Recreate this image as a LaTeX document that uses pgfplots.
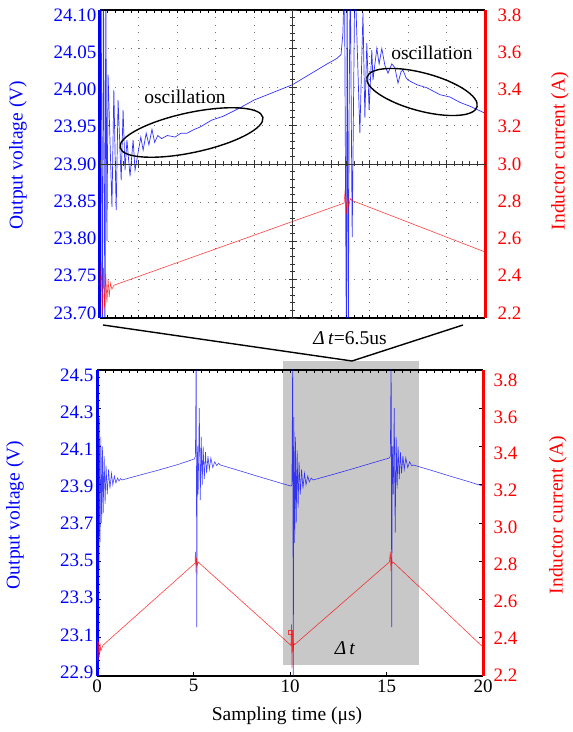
\documentclass[border=0pt]{standalone}
\usepackage{fontspec}
\setmainfont{Liberation Serif}
\usepackage{pgfplots}
\pgfplotsset{compat=1.18}
\definecolor{vblue}{RGB}{0,0,255}
\definecolor{ired}{RGB}{255,0,0}
\definecolor{boxgray}{RGB}{200,200,200}
\newcommand{\fs}{\fontsize{19}{22}\selectfont\rmfamily}
\newcommand{\fl}{\fontsize{19.5}{22}\selectfont\rmfamily}
\pgfplotsset{
  labelaxis/.style={anchor=south west, scale only axis, xmin=0, xmax=1,
    axis x line=none, y axis line style={draw=none}, ytick style={draw=none}},
}

\begin{document}
\begin{tikzpicture}
\begin{scope}[x=1pt,y=1pt]
\useasboundingbox (0,0) rectangle (568,732);
\coordinate (TA) at (100,414);
\coordinate (BA) at (97,56);
\coordinate (TL) at (100,419);
\coordinate (BL) at (97,60);
\coordinate (BR) at (97,57);
% shaded region and zoom lines
\fill[boxgray] (283,67) rectangle (419,371);
\draw[line width=1.4pt] (103,407) -- (352,371) -- (463,407);
\node[font=\fl] at (350,394) {\textit{Δ\,t}=6.5us};
\node[font=\fl] at (345,84) {\textit{Δ\,t}};
\end{scope}

%================ TOP PANEL =================
\begin{axis}[
  at={(TA)}, anchor=south west, scale only axis,
  width=385pt, height=308pt,
  xmin=0, xmax=10, ymin=23.70, ymax=24.10,
  separate axis lines,
  xtick={0,1,2,3,4,5,6,7,8,9,10}, xticklabels={},
  minor x tick num=4,
  tick align=inside, major tick length=3pt, minor tick length=3pt,
  x tick style={black, line width=0.6pt},
  ytick={23.70,23.75,23.80,23.85,23.90,23.95,24.00,24.05,24.10},
  yticklabels={},
  ytick style={draw=none},
  grid=major,
  major grid style={black!55, line width=0.6pt, dash pattern=on 0.6pt off 7.1pt},
  x axis line style={black, line width=1.8pt},
  y axis line style={vblue, line width=3pt},
]
\addplot[vblue, line width=0.7pt, opacity=0.8] coordinates {
(0.00,23.98) (0.03,24.15) (0.06,23.65) (0.09,24.15) (0.13,23.65) (0.15,24.15)
(0.18,23.80) (0.21,24.016) (0.31,23.844) (0.36,23.996) (0.42,23.840) (0.47,23.983)
(0.55,23.879) (0.60,23.970) (0.65,23.892) (0.70,23.931) (0.78,23.884) (0.86,23.931)
(0.91,23.892) (0.99,23.915) (1.06,23.935) (1.12,23.918) (1.20,23.940) (1.27,23.925)
(1.35,23.945) (1.42,23.928) (1.50,23.937) (1.60,23.933) (1.75,23.937) (1.95,23.935)
(2.10,23.940) (2.26,23.940) (2.45,23.945) (2.60,23.948) (2.90,23.957) (3.20,23.962)
(3.60,23.972) (4.00,23.983) (4.50,23.993) (5.00,24.003) (5.50,24.018) (5.90,24.030)
(6.15,24.037) (6.26,24.042) (6.31,24.070) (6.35,24.15) (6.40,23.65) (6.42,24.15)
(6.45,23.65) (6.47,23.970) (6.50,24.15) (6.55,23.805) (6.62,24.15) (6.75,23.940)
(6.83,24.096) (6.88,23.960) (6.93,24.057) (6.99,23.970) (7.06,24.048) (7.09,24.009)
(7.19,24.050) (7.25,24.030) (7.32,24.050) (7.40,24.028) (7.48,24.018) (7.58,24.030)
(7.66,24.025) (7.74,24.005) (7.82,24.020) (7.87,24.022) (7.95,24.012) (8.00,24.009)
(8.23,24.003) (8.49,23.999) (8.83,23.990) (9.09,23.987) (9.35,23.980) (9.61,23.975)
(10.00,23.966)
};
\end{axis}
\begin{axis}[
  at={(TA)}, anchor=south west, scale only axis,
  width=385pt, height=308pt,
  xmin=0, xmax=10, ymin=2.2, ymax=3.8,
  axis x line=none, axis y line*=right,
  ytick={2.2,2.4,2.6,2.8,3.0,3.2,3.4,3.6,3.8},
  yticklabels={},
  ytick style={draw=none},
  y axis line style={ired, line width=3pt, -},
]
\addplot[ired, line width=0.6pt, opacity=0.75] coordinates {
(0,2.35) (0.03,2.49) (0.06,2.22) (0.09,2.46) (0.12,2.25) (0.15,2.43) (0.18,2.28)
(0.21,2.40) (0.24,2.31) (0.27,2.38) (0.31,2.35) (0.36,2.37) (6.34,2.797)
(6.37,2.87) (6.40,2.74) (6.43,2.85) (6.46,2.78) (6.50,2.82) (6.55,2.81) (10,2.543)
};
\end{axis}
% tick labels of the top panel
\begin{axis}[labelaxis, at={(TL)}, width=385pt, height=298pt,
  ymin=23.70, ymax=24.10, axis y line*=left,
  ytick={23.70,23.75,23.80,23.85,23.90,23.95,24.00,24.05,24.10},
  yticklabels={\mbox{23.70},\mbox{23.75},\mbox{23.80},\mbox{23.85},\mbox{23.90},\mbox{23.95},\mbox{24.00},\mbox{24.05},\mbox{24.10}},
  yticklabel style={vblue, font=\fs}]
\end{axis}
\begin{axis}[labelaxis, at={(TL)}, width=385pt, height=298pt,
  ymin=2.2, ymax=3.8, axis y line*=right,
  ytick={2.2,2.4,2.6,2.8,3.0,3.2,3.4,3.6,3.8},
  yticklabels={\mbox{2.2},\mbox{2.4},\mbox{2.6},\mbox{2.8},\mbox{3.0},\mbox{3.2},\mbox{3.4},\mbox{3.6},\mbox{3.8}},
  yticklabel style={ired, font=\fs, xshift=9pt}]
\end{axis}

\begin{scope}[x=1pt,y=1pt]
% oscilloscope centre cross
\draw[black!80, line width=0.8pt] (100,568) -- (485,568);
\draw[black!80, line width=0.8pt] (292.5,414) -- (292.5,722);
\foreach \k in {0,...,50} \draw[black!80, line width=0.6pt] ({100+\k*7.7},565.5) -- ++(0,5);
\foreach \k in {0,...,10} \draw[black!80, line width=0.6pt] ({100+\k*38.5},564) -- ++(0,8);
\foreach \k in {0,...,40} \draw[black!80, line width=0.6pt] (290,{414+\k*7.7}) -- ++(5,0);
\foreach \k in {0,...,8} \draw[black!80, line width=0.6pt] (288.5,{414+\k*38.5}) -- ++(8,0);
% annotations
\draw[line width=1.4pt] (191.5,599.5) ellipse[x radius=73, y radius=20, rotate=12];
\draw[line width=1.4pt] (422,640) ellipse[x radius=57, y radius=19, rotate=-15];
\node[font=\fl] at (185,635) {oscillation};
\node[font=\fl] at (432,679) {oscillation};
\node[rotate=90, text=vblue, font=\fl] at (18,577) {Output voltage (V)};
\node[rotate=90, text=ired, font=\fl] at (560,581) {Inductor current (A)};
\end{scope}

%================ BOTTOM PANEL =================
\begin{axis}[
  at={(BA)}, anchor=south west, scale only axis,
  width=386pt, height=306pt,
  xmin=0, xmax=20, ymin=22.9, ymax=24.5,
  separate axis lines,
  xtick={0,5,10,15,20}, xticklabels={\mbox{0},\mbox{5},\mbox{10},\mbox{15},\mbox{20}},
  xtick pos=left, ytick pos=left,
  tick align=inside, major tick length=4pt, minor tick length=3pt,
  minor y tick num=4,
  ytick={22.9,23.1,23.3,23.5,23.7,23.9,24.1,24.3,24.5},
  yticklabels={},
  tick style={black, line width=0.6pt},
  xticklabel style={black, font=\fs},
  x axis line style={black, line width=1.8pt},
  y axis line style={vblue, line width=3pt},
]
\addplot[vblue, line width=0.6pt, opacity=0.75] coordinates {
(0,24.55) (0.03,22.85) (0.06,24.55) (0.09,23.0)
(0.12,24.25) (0.16,23.6) (0.2,24.15) (0.24,23.7) (0.28,24.1) (0.32,23.75) (0.37,24.05)
(0.42,23.8) (0.47,24.0) (0.53,23.85) (0.6,23.98) (0.67,23.88) (0.75,23.96) (0.82,23.9)
(0.9,23.945) (0.98,23.91) (1.06,23.935) (1.14,23.92) (1.22,23.932) (1.3,23.925)
(2.2,23.95) (3.2,23.977) (4.2,24.006) (5.05,24.035)
(5.1,24.05) (5.14,24.6) (5.17,23.156) (5.2,24.1) (5.24,23.85) (5.3,24.3) (5.35,23.82)
(5.4,24.15) (5.45,23.9) (5.5,24.1) (5.56,23.93) (5.62,24.07) (5.68,23.96) (5.75,24.05)
(5.82,23.98) (5.9,24.04) (6.0,23.99) (6.1,24.02) (6.2,24.0) (6.3,24.012) (6.4,24.003)
(7.3,23.976) (8.2,23.948) (9.1,23.921) (10.05,23.893)
(10.1,23.9) (10.14,24.6) (10.17,22.8) (10.2,24.254) (10.24,23.595) (10.28,24.15)
(10.32,23.7) (10.37,24.08) (10.42,23.78) (10.47,24.02) (10.53,23.85) (10.6,23.98)
(10.67,23.88) (10.75,23.96) (10.83,23.9) (10.92,23.945) (11.0,23.915) (11.1,23.935)
(11.2,23.925)
(12.2,23.953) (13.2,23.982) (14.2,24.012) (15.15,24.04)
(15.2,24.05) (15.24,24.6) (15.27,23.156) (15.3,24.1) (15.35,23.85) (15.4,24.3)
(15.45,23.648) (15.5,24.15) (15.55,23.88) (15.6,24.1) (15.66,23.93) (15.72,24.07)
(15.78,23.96) (15.85,24.05) (15.92,23.98) (16.0,24.04) (16.1,23.99) (16.2,24.02)
(16.3,24.0) (16.4,24.003)
(17.3,23.976) (18.2,23.948) (19.1,23.921) (20,23.893)
};
\end{axis}
\begin{axis}[
  at={(BA)}, anchor=south west, scale only axis,
  width=386pt, height=306pt,
  xmin=0, xmax=20, ymin=2.2, ymax=3.8,
  axis x line=none, axis y line*=right,
  tick align=inside, major tick length=4pt,
  ytick={2.2,2.4,2.6,2.8,3.0,3.2,3.4,3.6,3.8},
  yticklabels={},
  ytick style={black, line width=0.6pt},
  y axis line style={ired, line width=3pt, -},
]
\addplot[ired, line width=0.6pt, opacity=0.75] coordinates {
(0,2.27) (0.02,2.40) (0.05,2.28) (0.08,2.38) (0.12,2.30) (0.16,2.37) (0.2,2.33) (0.3,2.36)
(5.08,2.79) (5.1,2.85) (5.13,2.74) (5.16,2.82) (5.2,2.78) (5.25,2.795)
(10.05,2.36) (10.08,2.47) (10.1,2.24) (10.13,2.42) (10.16,2.33) (10.2,2.37) (10.25,2.365)
(15.15,2.796) (15.2,2.85) (15.23,2.75) (15.26,2.82) (15.3,2.79) (15.35,2.795)
(20,2.351)
};
\addplot[ired, only marks, mark=square, mark size=2pt, opacity=0.7] coordinates {(10.0,2.43)};
\end{axis}
% tick labels of the bottom panel
\begin{axis}[labelaxis, at={(BL)}, width=386pt, height=297pt,
  ymin=22.9, ymax=24.5, axis y line*=left,
  ytick={22.9,23.1,23.3,23.5,23.7,23.9,24.1,24.3,24.5},
  yticklabels={\mbox{22.9},\mbox{23.1},\mbox{23.3},\mbox{23.5},\mbox{23.7},\mbox{23.9},\mbox{24.1},\mbox{24.3},\mbox{24.5}},
  yticklabel style={vblue, font=\fs}]
\end{axis}
\begin{axis}[labelaxis, at={(BR)}, width=386pt, height=295pt,
  ymin=2.2, ymax=3.8, axis y line*=right,
  ytick={2.2,2.4,2.6,2.8,3.0,3.2,3.4,3.6,3.8},
  yticklabels={\mbox{2.2},\mbox{2.4},\mbox{2.6},\mbox{2.8},\mbox{3.0},\mbox{3.2},\mbox{3.4},\mbox{3.6},\mbox{3.8}},
  yticklabel style={ired, font=\fs, xshift=7pt}]
\end{axis}

\begin{scope}[x=1pt,y=1pt]
\foreach \k in {1,...,47} \draw[black, line width=0.6pt] ({97+\k*8.04},362) -- ++(0,-3.5);
\node[font=\fl] at (287,16) {Sampling time (μs)};
\node[rotate=90, text=vblue, font=\fl] at (15,217) {Output voltage (V)};
\node[rotate=90, text=ired, font=\fl] at (558,217) {Inductor current (A)};
\end{scope}
\end{tikzpicture}
\end{document}
